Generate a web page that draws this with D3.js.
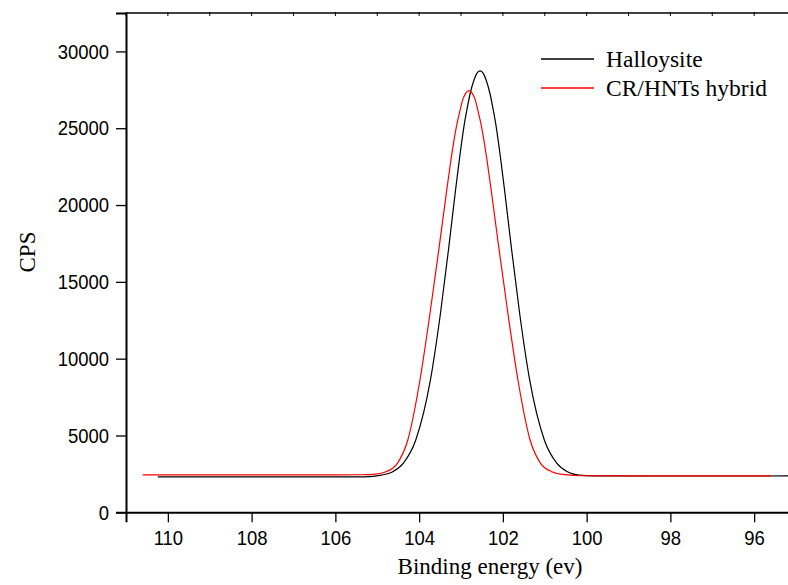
<!DOCTYPE html>
<html>
<head>
<meta charset="utf-8">
<script src="https://cdn.jsdelivr.net/npm/d3@7/dist/d3.min.js"></script>
<style>
  body { margin: 0; background: #fff; }
  svg { display: block; }
</style>
</head>
<body>
<svg id="chart"></svg>
<script>
// data
const seriesNames = ["Halloysite", "CR/HNTs hybrid"];
const energyTicks = [110, 108, 106, 104, 102, 100, 98, 96];
const cpsTicks = [0, 5000, 10000, 15000, 20000, 25000, 30000];

// [binding energy (eV), CPS]
const halloysite = [
  [110.24, 2300], [108, 2300], [106, 2300], [105.3, 2305], [104.9, 2420],
  [104.63, 2643], [104.38, 3190], [104.08, 4707], [103.73, 8613], [103.49, 12955],
  [103.29, 17291], [103.13, 20982], [103.04, 22935], [102.93, 25104], [102.86, 26190],
  [102.78, 27277], [102.69, 28143], [102.625, 28558], [102.545, 28730], [102.465, 28558],
  [102.4, 28143], [102.31, 27277], [102.23, 26190], [102.16, 25104], [102.05, 22935],
  [101.96, 20982], [101.8, 17291], [101.6, 12955], [101.36, 8613], [101.01, 4707],
  [100.71, 3190], [100.46, 2643], [100.19, 2420], [99.8, 2368], [98, 2362], [95.19, 2365]
];
const hybrid = [
  [110.6, 2430], [108, 2430], [106, 2435], [105.4, 2445], [105.1, 2470],
  [104.79, 2643], [104.52, 3190], [104.27, 4707], [103.98, 8613], [103.74, 12955],
  [103.52, 17291], [103.34, 20982], [103.24, 22935], [103.11, 25104], [103.02, 26190],
  [102.96, 26841], [102.885, 27290], [102.81, 27447], [102.735, 27290], [102.66, 26841],
  [102.6, 26190], [102.51, 25104], [102.38, 22935], [102.28, 20982], [102.1, 17291],
  [101.88, 12955], [101.64, 8613], [101.35, 4707], [101.1, 3190], [100.83, 2643],
  [100.52, 2450], [100.1, 2380], [99, 2370], [97, 2370], [95.6, 2370]
];

const series = [halloysite, hybrid];
const colors = ["#000000", "#ff0000"];

const W = 788, H = 585;
const margin = { top: 13, right: -8, bottom: 73, left: 126 };

const svg = d3.select("#chart").attr("width", W).attr("height", H);

const x = d3.scaleLinear().domain([111, 95]).range([margin.left, W - margin.right]);
const y = d3.scaleLinear().domain([0, 32500]).range([H - margin.bottom + 0.3, margin.top]);

const sansFont = "'Liberation Sans', Arial, sans-serif";
const serifFont = "'Liberation Serif', 'Times New Roman', serif";
const squeeze = 0.88;

// curves
const line = d3.line()
  .x(d => x(d[0]))
  .y(d => y(d[1]))
  .curve(d3.curveMonotoneX);

svg.append("g")
  .selectAll("path")
  .data(series)
  .join("path")
  .attr("fill", "none")
  .attr("stroke", (d, i) => colors[i])
  .attr("stroke-width", 1.2)
  .attr("d", d => line(d.slice().sort((a, b) => b[0] - a[0])));

// minor ticks
const xMinor = d3.range(111, 94, -2);
const yMinor = d3.range(2500, 32500, 5000);

const xAxisG = svg.append("g")
  .attr("transform", `translate(0,${y(0)})`);
xAxisG.call(d3.axisBottom(x).tickValues(xMinor).tickSize(5).tickFormat(""));
xAxisG.call(d3.axisBottom(x).tickValues(energyTicks).tickSize(10).tickPadding(8).tickFormat(d3.format("d")));

const yAxisG = svg.append("g")
  .attr("transform", `translate(${margin.left},0)`);
yAxisG.call(d3.axisLeft(y).tickValues(yMinor).tickSize(5).tickFormat(""));
yAxisG.call(d3.axisLeft(y).tickValues(cpsTicks).tickSize(10).tickPadding(7).tickFormat(d3.format("d")));

[xAxisG, yAxisG].forEach(g => {
  g.selectAll(".domain").attr("stroke", "#000").attr("stroke-width", 2);
  g.selectAll(".tick line").attr("stroke", "#000").attr("stroke-width", 1.3);
  g.selectAll(".tick text")
    .attr("fill", "#000")
    .attr("font-family", sansFont)
    .attr("font-size", 21);
});
// the reference labels are horizontally condensed
xAxisG.selectAll(".tick text").attr("transform", `scale(${squeeze},1)`);
yAxisG.selectAll(".tick text")
  .attr("x", -17 / squeeze)
  .attr("transform", `scale(${squeeze},1)`);

// top frame line with small inward ticks
const topG = svg.append("g");
topG.append("line")
  .attr("x1", margin.left).attr("x2", W)
  .attr("y1", y.range()[1]).attr("y2", y.range()[1])
  .attr("stroke", "#000").attr("stroke-width", 1.5);
topG.selectAll("line.tt")
  .data(d3.range(111, 94, -1))
  .join("line")
  .attr("class", "tt")
  .attr("x1", d => x(d)).attr("x2", d => x(d))
  .attr("y1", y.range()[1] - 1).attr("y2", y.range()[1] + 3)
  .attr("stroke", "#000").attr("stroke-width", 1);

// axis titles
svg.append("text")
  .attr("x", 490).attr("y", 574)
  .attr("text-anchor", "middle")
  .attr("font-family", serifFont)
  .attr("font-size", 23)
  .text("Binding energy (ev)");

svg.append("text")
  .attr("transform", "translate(35,252) rotate(-90)")
  .attr("text-anchor", "middle")
  .attr("font-family", serifFont)
  .attr("font-size", 23)
  .text("CPS");

// legend
const legend = svg.append("g").attr("transform", "translate(541,59)");
const items = legend.selectAll("g")
  .data(seriesNames)
  .join("g")
  .attr("transform", (d, i) => `translate(0,${i * 29})`);
items.append("line")
  .attr("x1", 0).attr("x2", 53)
  .attr("stroke", (d, i) => colors[i])
  .attr("stroke-width", 1.3);
items.append("text")
  .attr("x", 65).attr("y", 8)
  .attr("font-family", serifFont)
  .attr("font-size", 23.5)
  .text(d => d);
</script>
</body>
</html>
